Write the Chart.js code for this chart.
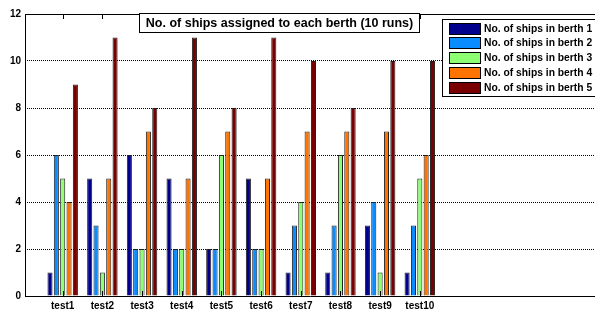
<!DOCTYPE html>
<html>
<head>
<meta charset="utf-8">
<script src="https://cdn.jsdelivr.net/npm/chart.js@4"></script>
<style>
  html, body { margin: 0; padding: 0; background: #fff; }
  #wrap { width: 595px; height: 311px; position: relative; }
</style>
</head>
<body>
<div id="wrap"><canvas id="chart"></canvas></div>
<script>
// values
var TESTS = ["test1", "test2", "test3", "test4", "test5", "test6", "test7", "test8", "test9", "test10"];
var BERTH1 = [1, 5, 6, 5, 2, 5, 1, 1, 3, 1];
var BERTH2 = [6, 3, 2, 2, 2, 2, 3, 3, 4, 3];
var BERTH3 = [5, 1, 2, 2, 6, 2, 4, 6, 1, 5];
var BERTH4 = [4, 5, 7, 5, 7, 5, 7, 7, 7, 6];
var BERTH5 = [9, 11, 8, 11, 8, 11, 10, 8, 10, 10];
var SERIES_NAMES = [
  "No. of ships in berth 1",
  "No. of ships in berth 2",
  "No. of ships in berth 3",
  "No. of ships in berth 4",
  "No. of ships in berth 5",
];
var Y_TICKS = [0, 2, 4, 6, 8, 10, 12];
var TITLE = "No. of ships assigned to each berth (10 runs)";

var COLORS = ["#00008c", "#0a8cff", "#8cff73", "#ff7300", "#780000"];
var FONT = "'Liberation Sans', Arial, sans-serif";

function toPoints(values) {
  return values.map(function (v, i) {
    return { x: i + 1, y: v };
  });
}

var datasets = [BERTH1, BERTH2, BERTH3, BERTH4, BERTH5].map(function (vals, k) {
  return {
    label: SERIES_NAMES[k],
    data: toPoints(vals),
    backgroundColor: COLORS[k],
    borderColor: "#222",
    borderWidth: 1,
    categoryPercentage: 0.8,
    barPercentage: 0.8,
  };
});

// frame, tick marks, boxed title and legend in the MATLAB style
var matlabDecor = {
  id: "matlabDecor",
  afterDraw: function (chart) {
    var ctx = chart.ctx;
    var a = chart.chartArea;
    var xs = chart.scales.x;
    ctx.save();
    ctx.strokeStyle = "#000";
    ctx.lineWidth = 1;
    ctx.beginPath();
    ctx.moveTo(a.left + 0.5, a.top + 0.5);
    ctx.lineTo(a.left + 0.5, a.bottom + 0.5);
    ctx.lineTo(a.right + 1, a.bottom + 0.5);
    ctx.moveTo(a.left + 0.5, a.top + 0.5);
    ctx.lineTo(a.right + 1, a.top + 0.5);
    ctx.stroke();

    // x tick marks at bottom and top
    ctx.beginPath();
    TESTS.forEach(function (t, i) {
      var px = Math.round(xs.getPixelForValue(i + 1)) + 0.5;
      ctx.moveTo(px, a.bottom);
      ctx.lineTo(px, a.bottom - 5);
      ctx.moveTo(px, a.top);
      ctx.lineTo(px, a.top + 5);
    });
    ctx.stroke();

    // boxed title
    ctx.font = "bold 12.5px " + FONT;
    var tw = ctx.measureText(TITLE).width;
    var cx = 279.5;
    ctx.fillStyle = "#fff";
    ctx.fillRect(139.5, 13.5, 280, 19);
    ctx.strokeRect(139.5, 13.5, 280, 19);
    ctx.fillStyle = "#000";
    ctx.textBaseline = "middle";
    ctx.textAlign = "left";
    ctx.fillText(TITLE, cx - tw / 2, 24);

    // legend box
    ctx.fillStyle = "#fff";
    ctx.fillRect(442.5, 19.5, 160, 77);
    ctx.strokeRect(442.5, 19.5, 160, 77);
    ctx.font = "bold 10.3px " + FONT;
    chart.data.datasets.forEach(function (ds, k) {
      var y = 22.5 + k * 14.8;
      ctx.fillStyle = ds.backgroundColor;
      ctx.fillRect(449.5, Math.round(y) + 0.5, 31, 11);
      ctx.strokeStyle = "#000";
      ctx.strokeRect(449.5, Math.round(y) + 0.5, 31, 11);
      ctx.fillStyle = "#000";
      ctx.fillText(ds.label, 484, Math.round(y) + 6.5);
    });
    ctx.restore();
  },
};

new Chart(document.getElementById("chart"), {
  type: "bar",
  data: { datasets: datasets },
  options: {
    responsive: true,
    maintainAspectRatio: false,
    animation: false,
    layout: { padding: { top: 14, right: 1, left: 0, bottom: 0 } },
    plugins: {
      legend: { display: false },
      title: { display: false },
      tooltip: { enabled: false },
    },
    scales: {
      x: {
        type: "linear",
        offset: false,
        min: 0.05,
        max: 14.39,
        grid: { display: false, drawTicks: false },
        border: { display: false },
        afterBuildTicks: function (scale) {
          scale.ticks = TESTS.map(function (t, i) {
            return { value: i + 1 };
          });
        },
        afterFit: function (scale) {
          scale.height = 15;
        },
        ticks: {
          autoSkip: false,
          maxRotation: 0,
          padding: 4,
          color: "#000",
          font: { family: FONT, size: 10, weight: "bold" },
          callback: function (v) {
            return TESTS[v - 1] || "";
          },
        },
      },
      y: {
        min: 0,
        max: 12,
        afterBuildTicks: function (scale) {
          scale.ticks = Y_TICKS.map(function (v) {
            return { value: v };
          });
        },
        afterFit: function (scale) {
          scale.width = 25;
        },
        grid: { color: "#000", lineWidth: 1, drawTicks: false },
        border: { display: false, dash: [1, 1] },
        ticks: {
          padding: 4,
          color: "#000",
          font: { family: FONT, size: 10, weight: "bold" },
        },
      },
    },
  },
  plugins: [matlabDecor],
});
</script>
</body>
</html>
